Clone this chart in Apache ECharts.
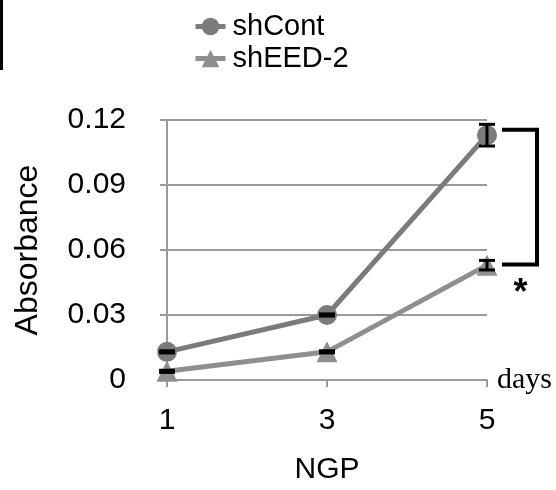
<!DOCTYPE html>
<html>
<head>
<meta charset="utf-8">
<script src="https://cdn.jsdelivr.net/npm/echarts@6/dist/echarts.min.js"></script>
<style>
  html, body { margin: 0; padding: 0; background: #fff; }
  #chart { width: 556px; height: 490px; }
</style>
</head>
<body>
<div id="chart"></div>
<script>
// Absorbance over culture days (NGP cells)
const days = ['1', '3', '5'];
const shCont = [0.013, 0.030, 0.113];
const shContErr = [0.0005, 0.0005, 0.005];
const shEED2 = [0.004, 0.013, 0.053];
const shEED2Err = [0.0005, 0.0005, 0.0022];
const yMin = 0, yMax = 0.12, yStep = 0.03;
const xTitle = 'NGP';
// significance bracket at day 5
const sigDay = '5';
const sigTop = 0.1155;
const sigBottom = 0.0533;
const sigMark = '*';

const SANS = 'Liberation Sans, Arial, sans-serif';
const GRID_GREY = '#9a9a9a';
const CONT_GREY = '#7b7b7b';
const EED_GREY = '#8f8f8f';

function errorBars(name, vals, errs) {
  return {
    type: 'custom',
    name: name,
    z: 10,
    clip: false,
    silent: true,
    data: vals.map((v, i) => [i, v - errs[i], v + errs[i]]),
    renderItem(params, api) {
      const i = api.value(0);
      const lo = api.coord([i, api.value(1)]);
      const hi = api.coord([i, api.value(2)]);
      const hw = 8;
      const st = { stroke: '#000', lineWidth: 3 };
      return {
        type: 'group',
        children: [
          { type: 'line', shape: { x1: lo[0], y1: lo[1], x2: hi[0], y2: hi[1] }, style: st },
          { type: 'line', shape: { x1: lo[0] - hw, y1: lo[1], x2: lo[0] + hw, y2: lo[1] }, style: st },
          { type: 'line', shape: { x1: hi[0] - hw, y1: hi[1], x2: hi[0] + hw, y2: hi[1] }, style: st }
        ]
      };
    }
  };
}

const chart = echarts.init(document.getElementById('chart'));
chart.setOption({
  animation: false,
  backgroundColor: '#fff',
  textStyle: { fontFamily: SANS },
  legend: {
    data: ['shCont', 'shEED-2'],
    orient: 'vertical',
    left: 188,
    top: 7,
    itemWidth: 30,
    itemHeight: 22,
    itemGap: 3,
    lineStyle: { width: 5 },
    textStyle: { fontFamily: SANS, fontSize: 29, color: '#000', padding: [0, 0, 0, 2] }
  },
  grid: { left: 167, right: 69, top: 120, bottom: 109 },
  xAxis: [
    {
      type: 'category',
      data: days,
      boundaryGap: false,
      name: 'days',
      nameLocation: 'end',
      nameGap: 10,
      nameTextStyle: { fontFamily: 'Liberation Serif, Times New Roman, serif', fontSize: 30, color: '#000', verticalAlign: 'middle', padding: [6, 0, 0, 0] },
      axisLine: { show: true, lineStyle: { color: GRID_GREY, width: 2 } },
      axisTick: { show: true, length: 7, lineStyle: { color: GRID_GREY, width: 2 } },
      axisLabel: { fontFamily: SANS, fontSize: 30, color: '#000', margin: 26 },
      splitLine: { show: false }
    },
    {
      // carries only the centred axis title
      type: 'category',
      data: days,
      position: 'bottom',
      boundaryGap: false,
      name: xTitle,
      nameLocation: 'middle',
      nameGap: 75,
      nameTextStyle: { fontFamily: SANS, fontSize: 30, color: '#000' },
      axisLine: { show: false },
      axisTick: { show: false },
      axisLabel: { show: false },
      splitLine: { show: false }
    }
  ],
  yAxis: {
    type: 'value',
    min: yMin,
    max: yMax,
    interval: yStep,
    name: 'Absorbance',
    nameLocation: 'middle',
    nameGap: 123,
    nameTextStyle: { fontFamily: SANS, fontSize: 32, color: '#000' },
    axisLine: { show: true, lineStyle: { color: GRID_GREY, width: 2 } },
    axisTick: { show: true, length: 7, lineStyle: { color: GRID_GREY, width: 2 } },
    axisLabel: { fontFamily: SANS, fontSize: 30, color: '#000', margin: 41 },
    splitLine: { show: true, lineStyle: { color: GRID_GREY, width: 2 } }
  },
  series: [
    {
      name: 'shCont',
      type: 'line',
      data: shCont,
      symbol: 'circle',
      symbolSize: 20,
      color: CONT_GREY,
      lineStyle: { color: CONT_GREY, width: 5 },
      itemStyle: { color: CONT_GREY },
      z: 3
    },
    {
      name: 'shEED-2',
      type: 'line',
      data: shEED2,
      symbol: 'triangle',
      symbolSize: 21,
      color: EED_GREY,
      lineStyle: { color: EED_GREY, width: 5 },
      itemStyle: { color: EED_GREY },
      z: 4
    },
    errorBars('shCont SD', shCont, shContErr),
    errorBars('shEED-2 SD', shEED2, shEED2Err),
    {
      type: 'custom',
      name: 'significance',
      z: 10,
      clip: false,
      silent: true,
      data: [[days.indexOf(sigDay), sigTop, sigBottom]],
      renderItem(params, api) {
        const t = api.coord([api.value(0), api.value(1)]);
        const b = api.coord([api.value(0), api.value(2)]);
        const x0 = t[0] + 15, x1 = t[0] + 50;
        return {
          type: 'group',
          children: [
            {
              type: 'polyline',
              shape: { points: [[x0, t[1]], [x1, t[1]], [x1, b[1]], [x0, b[1]]] },
              style: { stroke: '#000', lineWidth: 4, fill: null }
            },
            {
              type: 'text',
              style: {
                text: sigMark, x: (x0 + x1) / 2 + 1, y: b[1] + 12,
                fill: '#000', font: 'bold 36px ' + SANS,
                align: 'center', verticalAlign: 'top'
              }
            }
          ]
        };
      }
    }
  ],
  graphic: [
    { type: 'rect', left: 0, top: 0, shape: { width: 3, height: 70 }, style: { fill: '#000' } }
  ]
});
</script>
</body>
</html>
